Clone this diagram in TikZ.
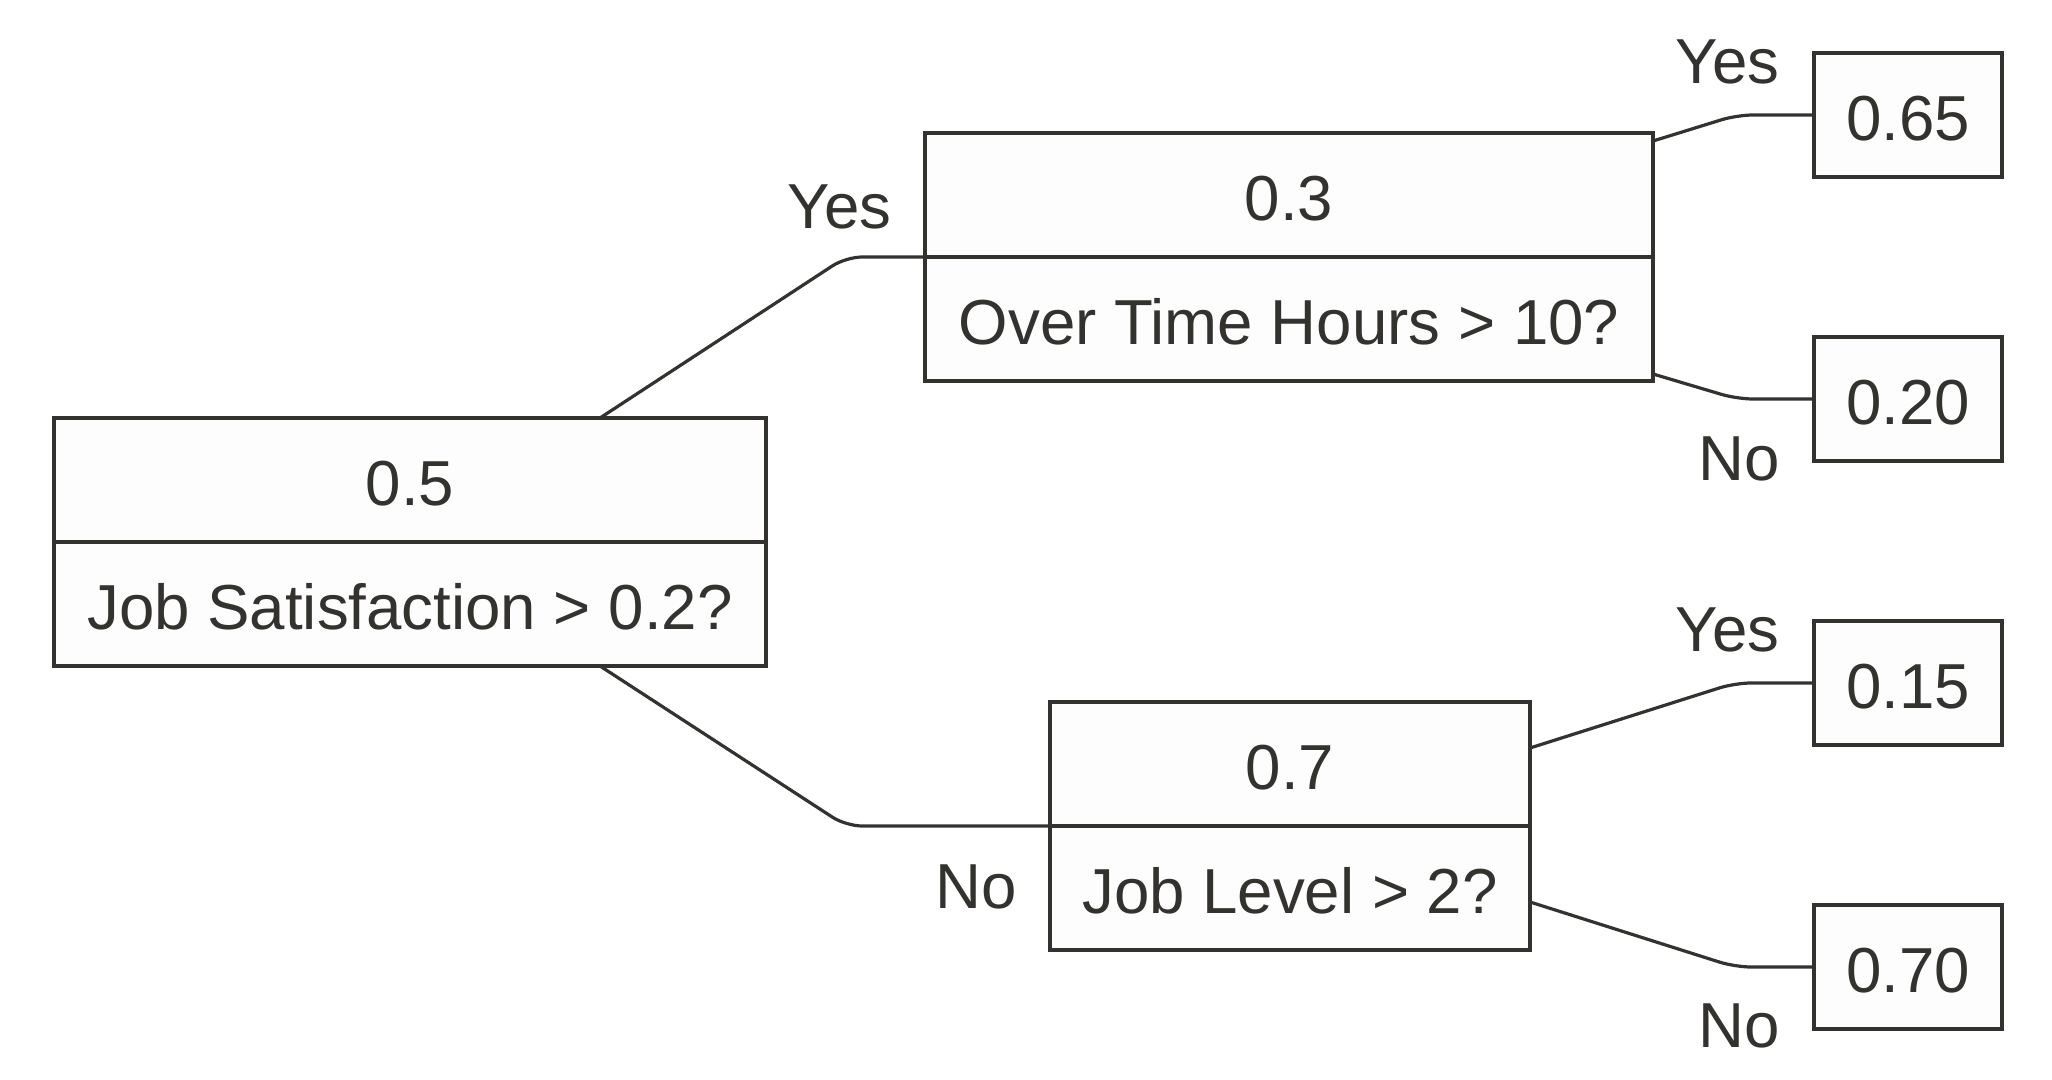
\documentclass[tikz,border=0pt]{standalone}
\usepackage{fontspec}
\setmainfont{Liberation Sans}
\definecolor{ink}{HTML}{33322F}
\definecolor{boxfill}{HTML}{FDFDFD}
\begin{document}
\begin{tikzpicture}[x=0.5pt,y=-0.5pt,
  every node/.style={font=\fontsize{31.8}{36}\selectfont, text=ink},
  part/.style={draw=ink, fill=boxfill, line width=1.6pt, inner sep=0pt, outer sep=0pt, minimum height=62pt, text height=25.5pt, text depth=0pt},
  leaf/.style={part, minimum width=94pt},
  edge/.style={draw=ink, line width=1.6pt, rounded corners=8pt},
  lbl/.style={anchor=base east, inner sep=0pt}]
\useasboundingbox (0,0) rectangle (2052,1080);
% root
\node[part, minimum width=356pt] (rootT) at (410,480) {0.5};
\node[part, minimum width=356pt] (rootB) at (410,604) {Job Satisfaction > 0.2?};
% top decision
\node[part, minimum width=364pt] (topT) at (1289,195) {0.3};
\node[part, minimum width=364pt] (topB) at (1289,319) {Over Time Hours > 10?};
% bottom decision
\node[part, minimum width=240pt] (botT) at (1290,764) {0.7};
\node[part, minimum width=240pt] (botB) at (1290,888) {Job Level > 2?};
% leaves
\node[leaf] (l1) at (1908,115) {0.65};
\node[leaf] (l2) at (1908,399) {0.20};
\node[leaf] (l3) at (1908,683) {0.15};
\node[leaf] (l4) at (1908,967) {0.70};
% elbows
\coordinate (e1) at (846,257);
\coordinate (e2) at (846,826);
\coordinate (e3) at (1737,115);
\coordinate (e4) at (1737,399);
\coordinate (e5) at (1735,683);
\coordinate (e6) at (1735,967);
% connectors
\draw[edge] ([xshift=95pt]rootT.north) -- (e1) -- (topB.north west);
\draw[edge] ([xshift=95pt]rootB.south) -- (e2) -- (botT.south west);
\draw[edge] ([yshift=-4pt]topT.north east) -- (e3) -- (l1.west);
\draw[edge] ([yshift=3.5pt]topB.south east) -- (e4) -- (l2.west);
\draw[edge] ([yshift=-23pt]botT.north east) -- (e5) -- (l3.west);
\draw[edge] ([yshift=24pt]botB.south east) -- (e6) -- (l4.west);
% labels
\node[lbl] (yes1) at (892,229) {Yes};
\node[lbl] (no1) at (1017,908) {No};
\node[lbl] (yes2) at (1780,84) {Yes};
\node[lbl] (no2) at (1780,481) {No};
\node[lbl] (yes3) at (1780,652) {Yes};
\node[lbl] (no3) at (1780,1047) {No};
\end{tikzpicture}
\end{document}
